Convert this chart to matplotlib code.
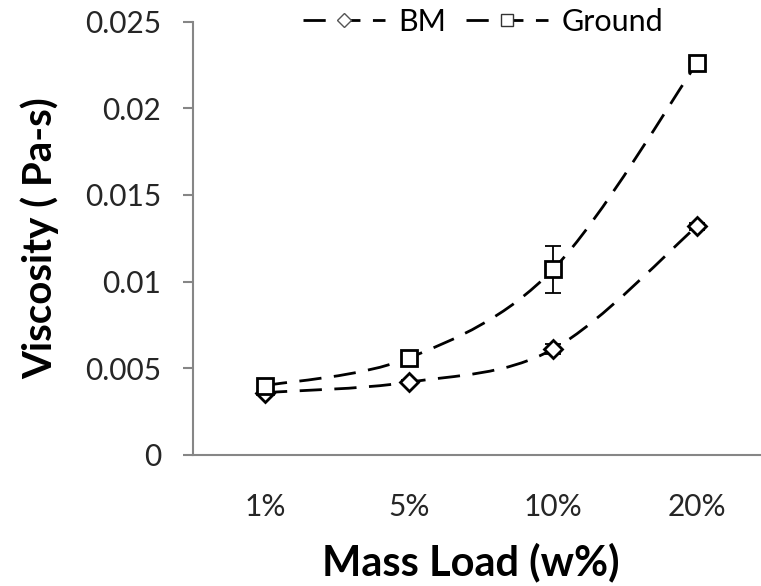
import numpy as np
import matplotlib
matplotlib.use('Agg')
from matplotlib import pyplot as plt
from matplotlib.path import Path
from matplotlib.patches import PathPatch
from matplotlib.lines import Line2D

plt.rcParams['font.family'] = ['Lato', 'DejaVu Sans']

# data
categories = ['1%', '5%', '10%', '20%']
bm_visc = [0.0036, 0.0042, 0.0061, 0.0132]
bm_err = [0.0001, 0.0001, 0.0003, 0.0002]
ground_visc = [0.0040, 0.0056, 0.0107, 0.0226]
ground_err = [0.0002, 0.0003, 0.00135, 0.0003]
y_ticks = [0, 0.005, 0.01, 0.015, 0.02, 0.025]
y_tick_labels = ['0', '0.005', '0.01', '0.015', '0.02', '0.025']

DASH = (0, (8, 4.5))


def smooth_path(xs, ys):
    # excel-like smoothed line: catmull-rom converted to cubic bezier segments
    pts = np.column_stack([xs, ys]).astype(float)
    n = len(pts)
    verts = [pts[0]]
    codes = [Path.MOVETO]
    for i in range(n - 1):
        p0 = pts[i - 1] if i > 0 else pts[i]
        p1 = pts[i]
        p2 = pts[i + 1]
        p3 = pts[i + 2] if i + 2 < n else pts[i + 1]
        c1 = p1 + (p2 - p0) / 6.0
        c2 = p2 - (p3 - p1) / 6.0
        verts += [c1, c2, p2]
        codes += [Path.CURVE4] * 3
    return Path(verts, codes)


fig = plt.figure(figsize=(7.61, 5.86), dpi=100)
ax = fig.add_axes([193 / 761, 131 / 586, 576 / 761, 433.5 / 586])

x = np.arange(len(categories))

for vals, errs, mk, ms in [(bm_visc, bm_err, 'D', 9),
                           (ground_visc, ground_err, 's', 11)]:
    ax.add_patch(PathPatch(smooth_path(x, vals), fill=False, edgecolor='black',
                           linewidth=2, linestyle=DASH, zorder=2))
    ax.errorbar(x, vals, yerr=errs, fmt='none', ecolor='black',
                elinewidth=1.3, capsize=5.5, capthick=1.3, zorder=3)
    ax.plot(x, vals, linestyle='none', marker=mk, markersize=ms,
            markerfacecolor='white', markeredgecolor='black',
            markeredgewidth=2, zorder=4)

ax.set_xlim(-0.5, len(categories) - 0.5)
ax.set_ylim(0, 0.025)
ax.set_xticks(x)
ax.set_xticklabels(categories)
ax.set_yticks(y_ticks)
ax.set_yticklabels(y_tick_labels)

for side in ['top', 'right']:
    ax.spines[side].set_visible(False)
for side in ['left', 'bottom']:
    ax.spines[side].set_color('#868686')
    ax.spines[side].set_linewidth(1.5)

ax.tick_params(axis='y', direction='out', length=7, width=1.5,
               color='#868686', pad=16, labelsize=21.5, labelcolor='#262626')
ax.tick_params(axis='x', length=0, pad=27, labelsize=21.5, labelcolor='#262626')

ax.set_ylabel('Viscosity ( Pa-s)', fontsize=29, fontweight='bold', va='center')
ax.yaxis.set_label_coords(-0.266, 0.5)
ax.set_xlabel('Mass Load (w%)', fontsize=30, fontweight='bold', va='center')
ax.xaxis.set_label_coords(0.483, -0.247)

handles = [
    Line2D([], [], color='black', linewidth=2, linestyle=DASH, marker='D',
           markersize=7, markerfacecolor='white', markeredgecolor='#555555',
           markeredgewidth=1),
    Line2D([], [], color='black', linewidth=2, linestyle=DASH, marker='s',
           markersize=9, markerfacecolor='white', markeredgecolor='#333333',
           markeredgewidth=1),
]
fig.legend(handles, ['BM', 'Ground'], loc='center', ncol=2, frameon=False,
           bbox_to_anchor=(483 / 761, 1 - 22 / 586), fontsize=22,
           handlelength=2.7, handletextpad=0.42, columnspacing=0.65,
           borderpad=0.1)

fig.savefig('out.png', dpi=100)
